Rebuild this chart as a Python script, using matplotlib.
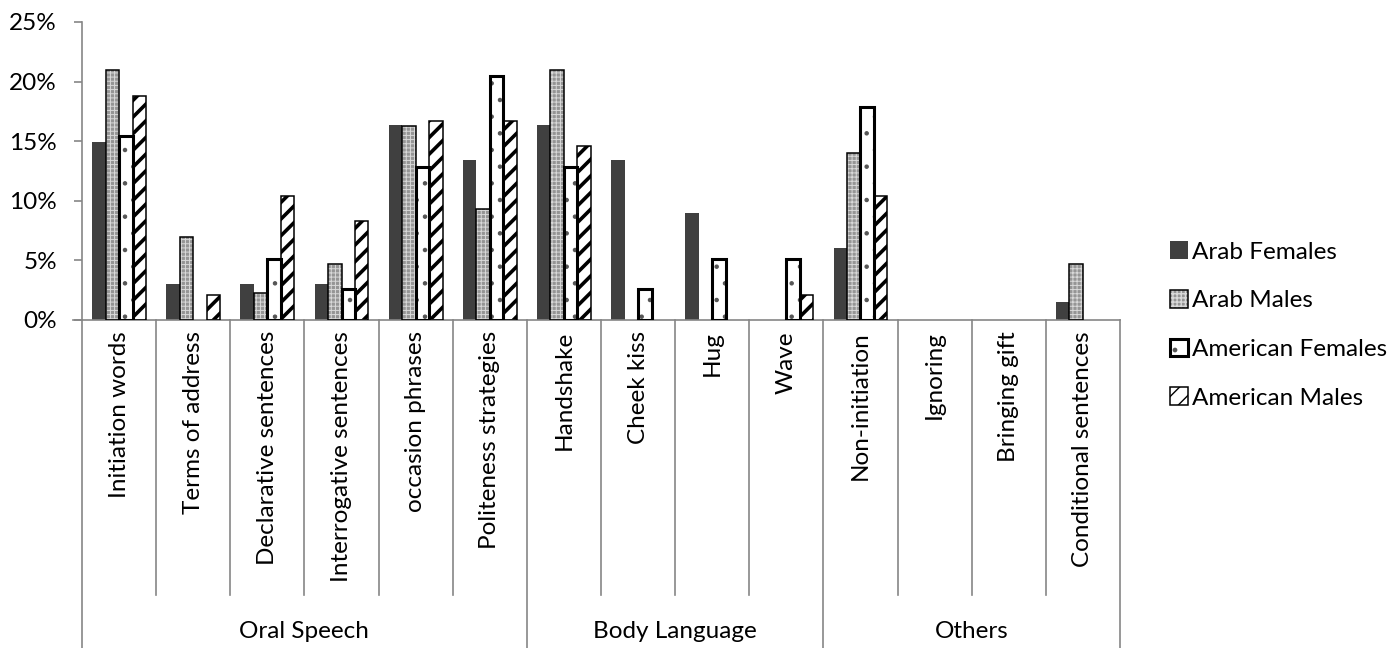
import numpy as np
import matplotlib
matplotlib.use("Agg")
import matplotlib.pyplot as plt
import matplotlib.patches as mpatches
from matplotlib.legend_handler import HandlerTuple

plt.rcParams["font.family"] = ["Lato", "DejaVu Sans"]

categories = [
    "Initiation words", "Terms of address", "Declarative sentences",
    "Interrogative sentences", "occasion phrases", "Politeness strategies",
    "Handshake", "Cheek kiss", "Hug", "Wave",
    "Non-initiation", "Ignoring", "Bringing gift", "Conditional sentences",
]
groups = ["Oral Speech", "Body Language", "Others"]
group_sizes = [6, 4, 4]

series_names = ["Arab Females", "Arab Males", "American Females", "American Males"]
arab_females = [14.9, 3.0, 3.0, 3.0, 16.4, 13.4, 16.4, 13.4, 9.0, 0.0, 6.0, 0.0, 0.0, 1.5]
arab_males = [21.0, 7.0, 2.3, 4.7, 16.3, 9.3, 21.0, 0.0, 0.0, 0.0, 14.0, 0.0, 0.0, 4.7]
american_females = [15.4, 0.0, 5.1, 2.6, 12.8, 20.5, 12.8, 2.6, 5.1, 5.1, 17.9, 0.0, 0.0, 0.0]
american_males = [18.8, 2.1, 10.4, 8.3, 16.7, 16.7, 14.6, 0.0, 0.0, 2.1, 10.4, 0.0, 0.0, 0.0]
series = [arab_females, arab_males, american_females, american_males]

# fill / hatch / outline style for each series
styles = [
    dict(face="#404040", hatch=None, hcolor="#404040", hlw=1.0, edge="#404040", elw=0.0),
    dict(face="#959595", hatch="++++", hcolor="#d9d9d9", hlw=0.7, edge="black", elw=1.1),
    dict(face="white", hatch=".", hcolor="#555555", hlw=0.8, edge="black", elw=2.2),
    dict(face="white", hatch="//", hcolor="black", hlw=2.6, edge="black", elw=1.1),
]

axis_grey = "#868686"
fs = 17.5

fig = plt.figure(figsize=(14, 6.48), dpi=100)
ax = fig.add_axes([82 / 1400, 1 - 320 / 648, (1120 - 82) / 1400, 298 / 648])

x = np.arange(len(categories))
w = 1 / 5.5
handles = []
for k, (vals, st) in enumerate(zip(series, styles)):
    pos = x + (k - 1.5) * w
    heights = np.array(vals) / 100
    fill = ax.bar(pos, heights, w, color=st["face"], hatch=st["hatch"],
                  edgecolor=st["hcolor"], linewidth=0, zorder=2)
    outline = ax.bar(pos, heights, w, fill=False, edgecolor=st["edge"],
                     linewidth=st["elw"], zorder=3)
    for p, q, h in zip(fill, outline, heights):
        if hasattr(p, "set_hatch_linewidth"):
            p.set_hatch_linewidth(st["hlw"])
        if h == 0:
            p.set_visible(False)
            q.set_visible(False)
    hp = mpatches.Patch(facecolor=st["face"], hatch=st["hatch"], edgecolor=st["hcolor"], linewidth=0)
    if hasattr(hp, "set_hatch_linewidth"):
        hp.set_hatch_linewidth(st["hlw"])
    ep = mpatches.Patch(fill=False, edgecolor=st["edge"], linewidth=st["elw"])
    handles.append((hp, ep))

ax.set_xlim(-0.5, len(categories) - 0.5)
ax.set_ylim(0, 0.25)
ticks = np.arange(0, 0.26, 0.05)
ax.set_yticks(ticks)
ax.set_yticklabels([f"{int(round(v * 100))}%" for v in ticks], fontsize=fs)
ax.tick_params(axis="y", length=6, color=axis_grey, width=1.2, pad=12)

ax.set_xticks(x)
ax.set_xticklabels(categories, rotation=90, fontsize=fs, va="top", ha="center")
ax.tick_params(axis="x", length=0, pad=8)

for side in ["top", "right"]:
    ax.spines[side].set_visible(False)
for side in ["left", "bottom"]:
    ax.spines[side].set_color(axis_grey)
    ax.spines[side].set_linewidth(1.2)

# two-level category axis: separators and group labels below the bars
trans = ax.get_xaxis_transform()
bounds = np.cumsum([0] + group_sizes) - 0.5
for b in np.arange(-0.5, len(categories)):
    bottom = -1.1 if b in bounds else -0.923
    ax.plot([b, b], [0, bottom], color=axis_grey, lw=1.2, transform=trans, clip_on=False)
ax.plot([-0.5 - 0.12, -0.5], [0, 0], color=axis_grey, lw=1.2, transform=trans, clip_on=False)
for g, (name, lo) in enumerate(zip(groups, bounds[:-1])):
    mid = (lo + bounds[g + 1]) / 2
    ax.text(mid, -1.045, name, transform=trans, ha="center", va="center", fontsize=fs)

fig.legend(handles, series_names, handler_map={tuple: HandlerTuple(ndivide=1, pad=0)},
           loc="center left", bbox_to_anchor=(1160 / 1400, 1 - 325 / 648),
           frameon=False, fontsize=fs, handlelength=0.75, handleheight=0.75,
           handletextpad=0.15, labelspacing=1.12, borderaxespad=0)

fig.savefig("out.png", dpi=100)
